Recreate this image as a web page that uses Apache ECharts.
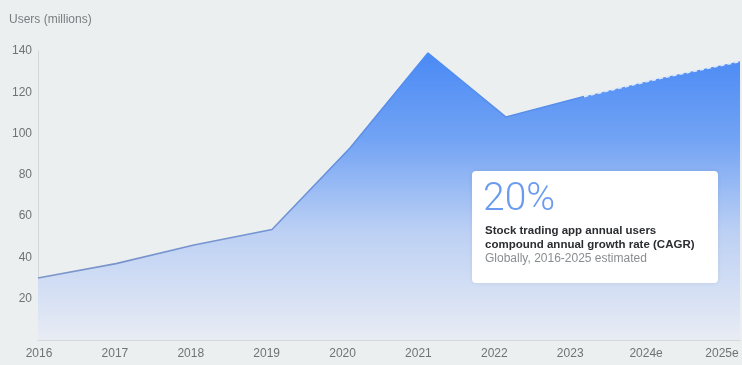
<!DOCTYPE html>
<html>
<head>
<meta charset="utf-8">
<script src="https://cdn.jsdelivr.net/npm/echarts@6/dist/echarts.min.js"></script>
<style>
  html, body { margin: 0; padding: 0; background: #ebeff0; }
  #chart { width: 742px; height: 365px; }
</style>
</head>
<body>
<div id="chart"></div>
<script>
// Stock trading app users worldwide, millions
const years = ['2016', '2017', '2018', '2019', '2020', '2021', '2022', '2023', '2024e', '2025e'];
const users = [30, 37, 46, 53.5, 93, 139, 108, 118, 127, 135];
const actualUsers = [30, 37, 46, 53.5, 93, 139, 108, 118, '-', '-'];
const estimatedUsers = ['-', '-', '-', '-', '-', '-', '-', 118, 127, 135];
const yTicks = { min: 0, max: 140, interval: 20 };

const calloutValue = '20%';
const calloutTitle = ['Stock trading app annual users', 'compound annual growth rate (CAGR)'];
const calloutNote = 'Globally, 2016-2025 estimated';

const FONT = '"Liberation Sans", Arial, sans-serif';
const chart = echarts.init(document.getElementById('chart'), null, { renderer: 'canvas' });

chart.setOption({
  backgroundColor: '#ebeff0',
  animation: false,
  title: {
    text: 'Users (millions)',
    left: 4, top: 9,
    textStyle: { fontFamily: FONT, fontSize: 12, fontWeight: 'normal', color: '#7a7d80' }
  },
  grid: [
    { left: 38, right: 2, top: 51, bottom: 25 },
    { left: 39, right: 20, top: 51, bottom: 25 }
  ],
  xAxis: [
    {
      type: 'category', gridIndex: 0, data: years, boundaryGap: false,
      axisLine: { show: true, lineStyle: { color: '#d3d7da', width: 1 } },
      axisTick: { show: false }, axisLabel: { show: false }
    },
    {
      type: 'category', gridIndex: 1, data: years, boundaryGap: false,
      axisLine: { show: false }, axisTick: { show: false },
      axisLabel: { fontFamily: FONT, fontSize: 12, color: '#707375', margin: 8 }
    }
  ],
  yAxis: [
    {
      type: 'value', gridIndex: 0,
      min: yTicks.min, max: yTicks.max, interval: yTicks.interval,
      axisLine: { show: true, lineStyle: { color: '#d3d7da', width: 1 } },
      axisTick: { show: false }, splitLine: { show: false },
      axisLabel: { showMinLabel: false, fontFamily: FONT, fontSize: 12, color: '#707375', margin: 6 }
    },
    { type: 'value', gridIndex: 1, show: false, min: yTicks.min, max: yTicks.max }
  ],
  series: [
    {
      // filled area under the whole series
      type: 'line', xAxisIndex: 0, yAxisIndex: 0, data: users,
      symbol: 'none', lineStyle: { width: 0 },
      areaStyle: {
        color: new echarts.graphic.LinearGradient(0, 0, 0, 1, [
          { offset: 0, color: '#4a8af5' },
          { offset: 0.3, color: '#72a3f4' },
          { offset: 0.62, color: '#bcd0f4' },
          { offset: 1, color: '#e8ecf4' }
        ]),
        opacity: 1
      },
      z: 1
    },
    {
      // reported values
      type: 'line', xAxisIndex: 0, yAxisIndex: 0, data: actualUsers,
      symbol: 'none',
      lineStyle: {
        width: 1.6,
        color: new echarts.graphic.LinearGradient(0, 0, 0, 1, [
          { offset: 0, color: '#4c8cf6' },
          { offset: 1, color: '#7e95c8' }
        ])
      },
      z: 3
    },
    {
      // estimates
      type: 'line', xAxisIndex: 0, yAxisIndex: 0, data: estimatedUsers,
      symbol: 'none',
      lineStyle: { width: 2, color: '#dfe8f8', type: [4, 3] },
      z: 3
    }
  ],
  graphic: [
    {
      type: 'rect',
      shape: { x: 472, y: 171, width: 246, height: 112, r: 4 },
      style: { fill: '#ffffff', shadowBlur: 4, shadowColor: 'rgba(0,0,0,0.08)' },
      z: 10
    },
    {
      type: 'text', left: 483, top: 181, z: 11,
      style: { text: calloutValue, font: '300 39px Roboto, "Liberation Sans", sans-serif', fill: '#6b9bef' }
    },
    {
      type: 'text', left: 485, top: 224, z: 11,
      style: { text: calloutTitle.join('\n'), font: 'bold 11.5px "Liberation Sans", Arial, sans-serif', fill: '#2b2d30', lineHeight: 14 }
    },
    {
      type: 'text', left: 485, top: 253, z: 11,
      style: { text: calloutNote, font: '12px "Liberation Sans", Arial, sans-serif', fill: '#8a8d90' }
    }
  ]
});
</script>
</body>
</html>
